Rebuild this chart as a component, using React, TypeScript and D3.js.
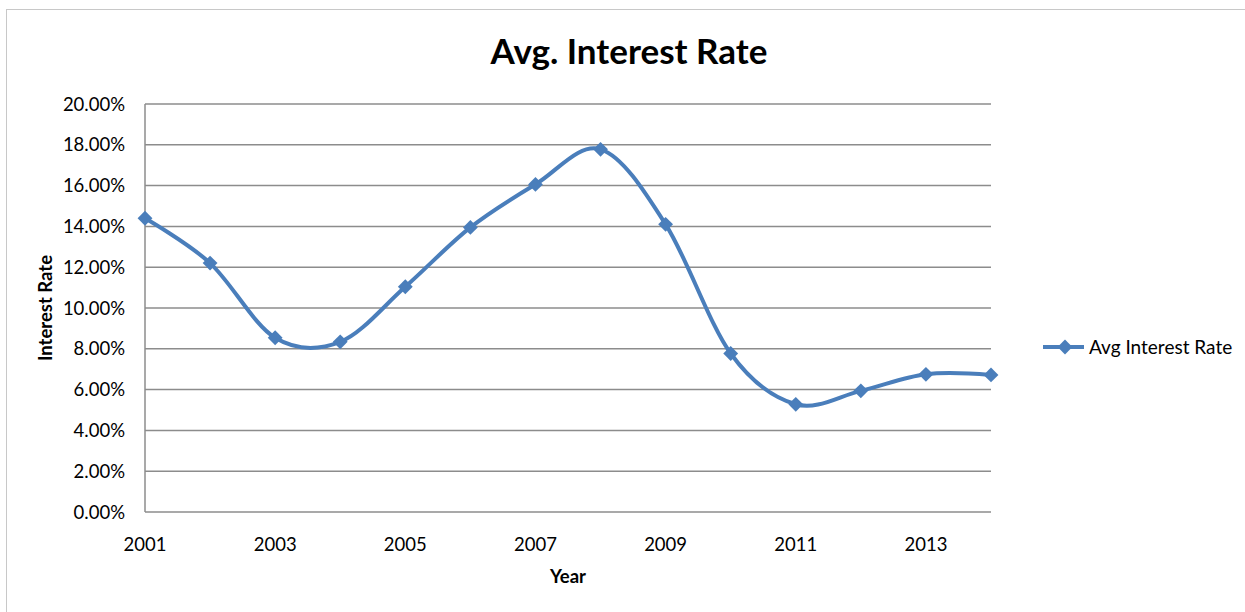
import { useEffect, useRef } from "react";
import * as d3 from "d3";

const years = [2001, 2002, 2003, 2004, 2005, 2006, 2007, 2008, 2009, 2010, 2011, 2012, 2013, 2014];
const avgRate = [14.4, 12.2, 8.54, 8.34, 11.04, 13.95, 16.06, 17.78, 14.1, 7.77, 5.28, 5.94, 6.75, 6.72];
const yTicks = [0, 2, 4, 6, 8, 10, 12, 14, 16, 18, 20];
const xTickYears = [2001, 2003, 2005, 2007, 2009, 2011, 2013];
const seriesName = "Avg Interest Rate";

const font = "Lato, 'Open Sans', sans-serif";
const blue = "#4a7ebb";

function App() {
    const width = 1245;
    const height = 612;
    const margin = { top: 104, right: 254, bottom: 100, left: 145 };
    const lineRef = useRef(null);

    const xScale = d3
        .scaleLinear()
        .domain([2001, 2014])
        .range([margin.left, width - margin.right]);
    const yScale = d3
        .scaleLinear()
        .domain([0, 20])
        .range([height - margin.bottom, margin.top]);

    const datas = years.map((y, i) => ({ year: y, rate: avgRate[i] }));

    useEffect(() => {
        // smooth line like excel
        const lineGenerator = d3
            .line()
            .x((d) => xScale(d.year))
            .y((d) => yScale(d.rate))
            .curve(d3.curveCatmullRom.alpha(0));

        const g = d3.select(lineRef.current);
        g.selectAll("*").remove();
        g.append("path")
            .datum(datas)
            .attr("fill", "none")
            .attr("stroke", blue)
            .attr("stroke-width", 4)
            .attr("d", lineGenerator);

        const diamond = d3.symbol().type(d3.symbolDiamond2).size(140);
        g.selectAll(".dot")
            .data(datas)
            .enter()
            .append("path")
            .attr("class", "dot")
            .attr("d", diamond)
            .attr("transform", (d) => `translate(${xScale(d.year)},${yScale(d.rate)})`)
            .attr("fill", blue);
    }, []);

    const legendY = 347;

    return (
        <svg
            width={width}
            height={height}
            style={{ position: "absolute", left: 0, top: 0, background: "#fff" }}
        >
            <rect x={6.5} y={9.5} width={1260} height={620} fill="#fff" stroke="#c8c8c8" />
            <text
                x={629}
                y={64}
                textAnchor="middle"
                fontFamily={font}
                fontWeight="bold"
                fontSize={35}
                fill="#000"
            >
                Avg. Interest Rate
            </text>

            {/* grid + y ticks */}
            {yTicks.map((t) => (
                <g key={t}>
                    <line
                        x1={xScale(2001)}
                        x2={xScale(2014)}
                        y1={yScale(t)}
                        y2={yScale(t)}
                        stroke="#8c8c8c"
                        strokeWidth={1.5}
                    />
                    <text
                        x={125}
                        y={yScale(t) + 6.5}
                        textAnchor="end"
                        fontFamily={font}
                        fontSize={18.5}
                        fill="#000"
                    >
                        {t.toFixed(2)}%
                    </text>
                </g>
            ))}
            <line
                x1={xScale(2001)}
                x2={xScale(2001)}
                y1={yScale(0)}
                y2={yScale(20)}
                stroke="#8c8c8c"
                strokeWidth={1.5}
            />

            {xTickYears.map((y) => (
                <text
                    key={y}
                    x={xScale(y)}
                    y={551}
                    textAnchor="middle"
                    fontFamily={font}
                    fontSize={18.5}
                    fill="#000"
                >
                    {y}
                </text>
            ))}

            <text
                x={568}
                y={583}
                textAnchor="middle"
                fontFamily={font}
                fontWeight="bold"
                fontSize={18.5}
                fill="#000"
            >
                Year
            </text>
            <text
                transform={`translate(52, ${yScale(10)}) rotate(-90)`}
                textAnchor="middle"
                fontFamily={font}
                fontWeight="bold"
                fontSize={18.5}
                fill="#000"
            >
                Interest Rate
            </text>

            <g ref={lineRef}></g>

            {/* legend */}
            <line x1={1043} x2={1084} y1={legendY} y2={legendY} stroke={blue} strokeWidth={4} />
            <path
                d={d3.symbol().type(d3.symbolDiamond2).size(140)()}
                transform={`translate(1065,${legendY})`}
                fill={blue}
            />
            <text x={1089} y={legendY + 6.5} fontFamily={font} fontSize={19} fill="#000">
                {seriesName}
            </text>
        </svg>
    );
}

export default App;
